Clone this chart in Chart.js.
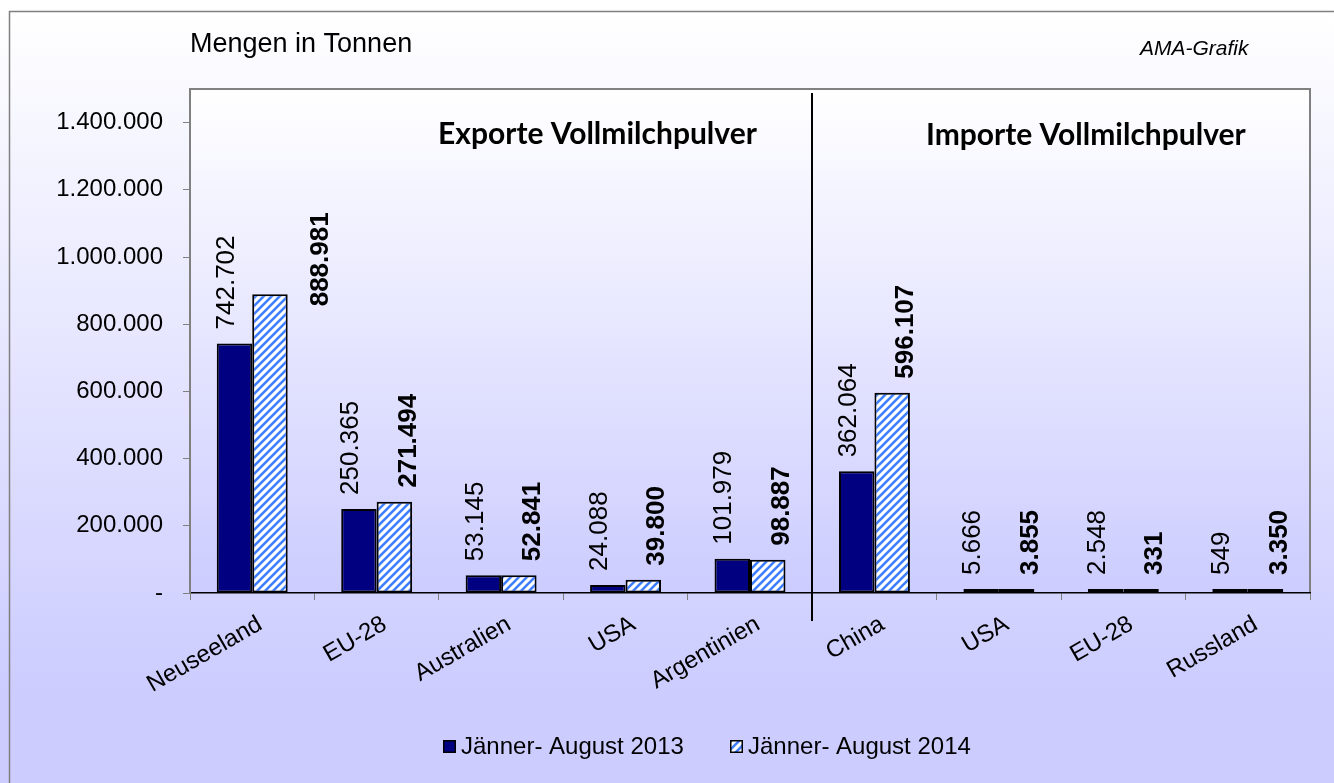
<!DOCTYPE html>
<html>
<head>
<meta charset="utf-8">
<script src="https://cdn.jsdelivr.net/npm/chart.js@4.4.1/dist/chart.umd.min.js"></script>
<style>
  html, body { margin: 0; padding: 0; background: #fff; }
  canvas { display: block; }
</style>
</head>
<body>
<canvas id="chart" width="1334" height="783"></canvas>
<script>
'use strict';

// data
var categories = ['Neuseeland', 'EU-28', 'Australien', 'USA', 'Argentinien', 'China', 'USA', 'EU-28', 'Russland'];
var seriesNames = ['Jänner- August 2013', 'Jänner- August 2014'];
var values2013 = [742702, 250365, 53145, 24088, 101979, 362064, 5666, 2548, 549];
var values2014 = [888981, 271494, 52841, 39800, 98887, 596107, 3855, 331, 3350];
var yTickValues = [0, 200000, 400000, 600000, 800000, 1000000, 1200000, 1400000];
var yMax = 1500000;
var sectionTitles = ['Exporte Vollmilchpulver', 'Importe Vollmilchpulver'];

var FONT = '"Liberation Sans", Arial, sans-serif';
Chart.defaults.font.family = FONT;
Chart.defaults.color = '#000';

function fmt(v) {
    if (v === 0) return '-';
    return String(v).replace(/\B(?=(\d{3})+(?!\d))/g, '.');
}

var ctx0 = document.getElementById('chart').getContext('2d');

// white bar with blue "/" stripes
var hatch = (function () {
    var s = 8;
    var c = document.createElement('canvas');
    c.width = c.height = s;
    var g = c.getContext('2d');
    g.fillStyle = '#fff';
    g.fillRect(0, 0, s, s);
    g.strokeStyle = '#3f7fff';
    g.lineWidth = 2.6;
    g.beginPath();
    g.moveTo(-2, 2); g.lineTo(2, -2);
    g.moveTo(0, s); g.lineTo(s, 0);
    g.moveTo(s - 2, s + 2); g.lineTo(s + 2, s - 2);
    g.stroke();
    return ctx0.createPattern(c, 'repeat');
})();

// label placement tweaks (Excel put the labels slightly off-centre)
var labelDx = [-8, 14];
var labelGap = 14;

var decor = {
    id: 'decor',
    beforeDraw: function (chart) {
        var ctx = chart.ctx, a = chart.chartArea;
        ctx.save();
        var g = ctx.createLinearGradient(0, 11, 0, 690);
        g.addColorStop(0, '#ffffff');
        g.addColorStop(1, '#ccccff');
        ctx.fillStyle = g;
        ctx.fillRect(0, 0, chart.width, chart.height);

        var p = ctx.createLinearGradient(0, a.top, 0, a.bottom);
        p.addColorStop(0, '#ffffff');
        p.addColorStop(1, '#ccccff');
        ctx.fillStyle = p;
        ctx.fillRect(a.left, a.top, a.right - a.left, a.bottom - a.top);

        // outer frame (right/bottom run off the picture)
        ctx.strokeStyle = '#808080';
        ctx.lineWidth = 1.5;
        ctx.strokeRect(9.5, 11.5, chart.width + 20, chart.height + 20);

        // plot frame top + right
        ctx.lineWidth = 2;
        ctx.beginPath();
        ctx.moveTo(a.left, a.top);
        ctx.lineTo(a.right, a.top);
        ctx.lineTo(a.right, a.bottom);
        ctx.stroke();

        ctx.fillStyle = '#000';
        ctx.textBaseline = 'alphabetic';
        ctx.textAlign = 'left';
        ctx.font = '27px ' + FONT;
        ctx.fillText('Mengen in Tonnen', 190, 52);
        ctx.font = 'italic 21px ' + FONT;
        ctx.fillText('AMA-Grafik', 1140, 55);

        ctx.font = 'bold 30px Lato, "Open Sans", sans-serif';
        ctx.fillText(sectionTitles[0], 438, 144);
        ctx.fillText(sectionTitles[1], 926, 145);
        ctx.restore();
    },
    afterDatasetsDraw: function (chart) {
        var ctx = chart.ctx;
        ctx.save();
        ctx.fillStyle = '#000';
        ctx.textAlign = 'left';
        ctx.textBaseline = 'middle';
        chart.data.datasets.forEach(function (ds, i) {
            ctx.font = (i ? 'bold ' : '') + '26px ' + FONT;
            chart.getDatasetMeta(i).data.forEach(function (bar, j) {
                var x = bar.x + labelDx[i];
                var y = bar.y - labelGap;
                if (i === 1 && j === 0) { x += 37; y += 26; }
                ctx.save();
                ctx.translate(x, y);
                ctx.rotate(-Math.PI / 2);
                ctx.fillText(fmt(ds.data[j]), 0, 0);
                ctx.restore();
            });
        });
        ctx.restore();
    },
    afterDraw: function (chart) {
        var ctx = chart.ctx, a = chart.chartArea, xs = chart.scales.x;
        ctx.save();
        // divider between exports and imports
        var dx = Math.round((xs.getPixelForValue(4) + xs.getPixelForValue(5)) / 2);
        ctx.strokeStyle = '#000';
        ctx.lineWidth = 2;
        ctx.beginPath();
        ctx.moveTo(dx, a.top + 4);
        ctx.lineTo(dx, a.bottom + 28);
        ctx.stroke();

        // legend
        var lx = [443, 730];
        ctx.font = '24px ' + FONT;
        ctx.textBaseline = 'middle';
        chart.data.datasets.forEach(function (ds, i) {
            ctx.fillStyle = ds.backgroundColor;
            ctx.fillRect(lx[i], 740, 13, 13);
            ctx.strokeStyle = '#000';
            ctx.lineWidth = 1.5;
            ctx.strokeRect(lx[i] + 0.75, 740.75, 11.5, 11.5);
            ctx.fillStyle = '#000';
            ctx.fillText(ds.label, lx[i] + 18, 747);
        });
        ctx.restore();
    }
};

new Chart(ctx0, {
    type: 'bar',
    data: {
        labels: categories,
        datasets: [
            { label: seriesNames[0], data: values2013, backgroundColor: '#000080' },
            { label: seriesNames[1], data: values2014, backgroundColor: hatch }
        ]
    },
    options: {
        responsive: false,
        animation: false,
        events: [],
        layout: { padding: { left: 10, right: 24, top: 89, bottom: 0 } },
        datasets: {
            bar: {
                categoryPercentage: 0.57,
                barPercentage: 1,
                borderColor: '#000',
                borderWidth: 2,
                borderSkipped: false,
                minBarLength: 4
            }
        },
        plugins: { legend: { display: false }, tooltip: { enabled: false } },
        scales: {
            x: {
                afterFit: function (s) { s.height = 190; },
                grid: { drawOnChartArea: false, color: '#808080', tickLength: 7, offset: true },
                border: { color: '#000', width: 1.5 },
                ticks: {
                    autoSkip: false, minRotation: 30, maxRotation: 30,
                    padding: 10, labelOffset: 8,
                    font: { size: 24 }, color: '#000'
                }
            },
            y: {
                min: 0,
                max: yMax,
                afterFit: function (s) { s.width = 180; },
                afterBuildTicks: function (s) {
                    s.ticks = yTickValues.map(function (v) { return { value: v }; });
                },
                grid: { drawOnChartArea: false, color: '#808080', tickLength: 7 },
                border: { color: '#808080', width: 2 },
                ticks: {
                    padding: 20,
                    font: { size: 24 }, color: '#000',
                    callback: function (v) { return fmt(v); }
                }
            }
        }
    },
    plugins: [decor]
});
</script>
</body>
</html>
